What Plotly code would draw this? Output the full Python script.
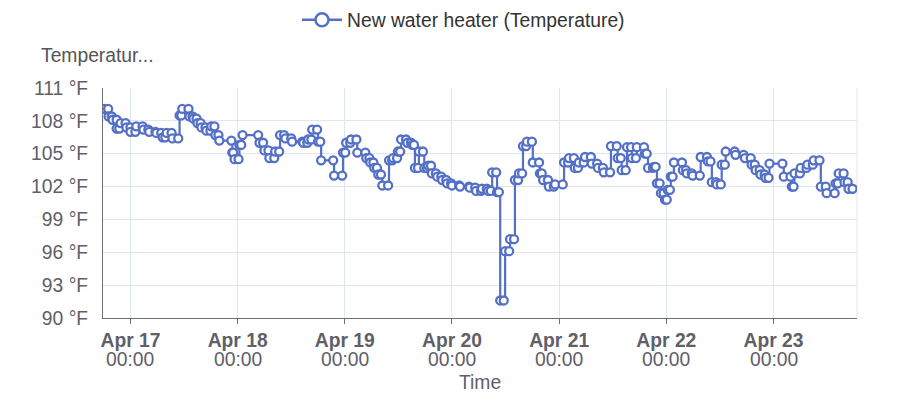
import pandas as pd
import plotly.graph_objects as go

# Each level: start hour, end hour (relative to Apr 17 00:00), temperature °F
level_start = [-5.8, -4.9, -4.0, -3.1, -2.2, -0.9, 0.0, 1.3, 2.9, 4.2, 5.8, 7.2, 8.1, 9.4, 11.0, 11.6,
               13.2, 14.1, 15.0, 15.9, 17.0, 18.1, 19.0, 19.9, 22.8, 23.3, 24.4, 25.1, 28.9, 30.0,
               31.1, 32.4, 33.5, 34.7, 36.2, 38.7, 39.8, 40.7, 42.0, 42.7, 45.6, 47.6, 48.3, 49.4,
               50.8, 52.8, 53.7, 54.6, 55.5, 56.4, 57.9, 58.8, 59.9, 60.6, 62.0, 63.1, 63.7, 64.6,
               65.8, 66.7, 67.5, 68.7, 69.8, 70.9, 72.0, 73.8, 76.0, 77.4, 78.7, 80.1, 81.0, 82.1,
               82.8, 83.9, 85.0, 86.1, 87.0, 87.9, 88.8, 90.1, 91.7, 92.4, 93.7, 95.1, 97.1, 98.2,
               99.5, 100.4, 101.8, 103.3, 104.7, 106.0, 107.6, 109.1, 110.0, 111.2, 112.3, 113.4,
               115.2, 115.9, 117.2, 117.9, 118.8, 119.7, 120.3, 121.0, 121.7, 123.7, 124.6, 125.9,
               127.7, 129.3, 130.2, 131.3, 132.4, 133.3, 135.5, 137.6, 139.1, 140.0, 141.1, 142.2,
               143.1, 146.3, 148.1, 148.7, 150.1, 151.6, 153.0, 154.6, 155.9, 157.9, 158.6, 159.9,
               160.8]
level_end = [-5.0, -4.2, -3.1, -2.5, -1.1, 0.0, 1.1, 2.7, 4.0, 5.6, 6.9, 7.8, 9.2, 10.7, 11.4, 13.0,
             13.9, 14.8, 15.7, 16.8, 17.9, 18.8, 19.7, 22.6, 23.0, 24.2, 24.8, 28.6, 29.7, 30.9,
             32.2, 33.3, 34.4, 36.0, 38.5, 39.6, 40.5, 41.8, 42.5, 45.4, 47.4, 48.1, 49.2, 50.6,
             52.6, 53.5, 54.4, 55.2, 56.1, 57.7, 58.6, 59.7, 60.4, 61.7, 62.8, 63.5, 64.4, 65.5,
             66.4, 67.3, 68.4, 69.6, 70.7, 71.8, 73.6, 75.8, 77.2, 78.5, 79.8, 80.7, 81.9, 82.5,
             83.6, 84.8, 85.9, 86.8, 87.7, 88.6, 89.9, 91.5, 92.1, 93.5, 94.8, 96.8, 98.0, 99.3,
             100.2, 101.5, 103.1, 104.5, 105.8, 107.4, 108.9, 109.8, 110.9, 112.1, 113.2, 115.0,
             115.6, 117.0, 117.6, 118.5, 119.4, 120.1, 120.8, 121.4, 123.5, 124.4, 125.7, 127.5,
             129.1, 129.9, 131.1, 132.2, 133.1, 135.3, 137.3, 138.9, 139.8, 140.9, 142.0, 142.9,
             146.0, 147.8, 148.5, 149.9, 151.4, 152.8, 154.3, 155.7, 157.7, 158.4, 159.7, 160.6,
             161.7]
temps = [109.1, 108.4, 108.1, 107.3, 107.8, 107.4, 107.0, 107.5, 107.2, 107.0, 106.9, 106.5, 106.9,
         106.4, 108.5, 109.1, 108.4, 108.2, 107.8, 107.4, 107.1, 107.5, 106.7, 106.2, 105.1, 104.5,
         105.8, 106.7, 106.0, 105.3, 104.6, 105.2, 106.7, 106.4, 106.1, 106.0, 106.3, 107.2, 106.1,
         104.4, 103.0, 105.1, 106.0, 106.3, 105.1, 104.6, 104.2, 103.7, 103.1, 102.1, 104.4, 104.6,
         105.2, 106.3, 106.0, 105.8, 103.7, 105.2, 103.7, 103.9, 103.2, 102.9, 102.6, 102.3, 102.1,
         102.0, 101.9, 101.6, 101.8, 101.6, 103.3, 101.5, 91.6, 96.1, 97.2, 102.6, 103.2, 105.7,
         106.1, 104.2, 103.2, 102.6, 102.0, 102.2, 104.2, 104.6, 103.7, 104.2, 104.7, 104.1, 103.7,
         103.3, 105.7, 104.6, 103.5, 105.6, 104.6, 105.6, 105.0, 103.7, 103.8, 102.3, 101.4, 100.8,
         101.7, 102.9, 104.2, 103.5, 103.2, 103.0, 104.7, 104.3, 102.4, 102.2, 104.0, 105.2, 104.9,
         104.6, 104.0, 103.5, 103.1, 102.8, 104.1, 102.9, 102.0, 103.2, 103.7, 104.0, 104.4, 102.0,
         101.4, 102.3, 103.2, 102.4, 101.8]

base = pd.Timestamp("2023-04-17 00:00")
tick_vals = ["2023-04-17", "2023-04-18", "2023-04-19", "2023-04-20", "2023-04-21", "2023-04-22", "2023-04-23"]
tick_dates = ["Apr 17", "Apr 18", "Apr 19", "Apr 20", "Apr 21", "Apr 22", "Apr 23"]
tick_times = ["00:00"] * 7
y_ticks = [90, 93, 96, 99, 102, 105, 108, 111]
y_tick_text = [f"{v} °F" for v in y_ticks]

xs, ys = [], []
for s, e, v in zip(level_start, level_end, temps):
    xs += [base + pd.Timedelta(hours=s), base + pd.Timedelta(hours=e)]
    ys += [v, v]

COLOR = "#5470c6"
GRID = "#e0e6f1"
AXIS = "#6e7079"
TXT = "#5f6068"
FONT = "Liberation Sans"
FS = 19.3

fig = go.Figure()
fig.add_trace(go.Scatter(
    x=xs, y=ys, mode="lines+markers", line_shape="hv",
    name="New water heater (Temperature)", showlegend=False,
    line=dict(color=COLOR, width=2.2),
    marker=dict(symbol="circle", size=8, color="white", line=dict(color=COLOR, width=2.3)),
))
# legend entry (larger symbol, as in the reference legend)
fig.add_trace(go.Scatter(
    x=[None], y=[None], mode="lines+markers",
    name="New water heater (Temperature)", showlegend=True,
    line=dict(color=COLOR, width=2.5),
    marker=dict(symbol="circle", size=13, color="white", line=dict(color=COLOR, width=2.5)),
))

annotations = [
    dict(text="Temperatur...", xref="paper", yref="paper", x=-0.0854, y=1.143,
         xanchor="left", yanchor="middle", showarrow=False,
         font=dict(size=FS, color="#555555")),
    dict(text="Time", xref="paper", yref="paper", x=0.5, y=-0.28,
         xanchor="center", yanchor="middle", showarrow=False,
         font=dict(size=FS, color=TXT)),
]
for tv, tt in zip(tick_vals, tick_times):
    annotations.append(dict(text=tt, xref="x", yref="paper", x=tv, y=-0.182,
                            xanchor="center", yanchor="middle", showarrow=False,
                            font=dict(size=FS, color=TXT)))

fig.update_layout(
    width=911, height=391,
    margin=dict(l=94.5, r=61.5, t=80, b=81, autoexpand=False),
    paper_bgcolor="white", plot_bgcolor="white",
    font=dict(family=FONT, size=FS, color=TXT),
    showlegend=True,
    legend=dict(orientation="h", xref="container", yref="container", x=0.5, y=0.969,
                xanchor="center", yanchor="middle", font=dict(size=FS, color="#333333"),
                itemwidth=40),
    xaxis=dict(
        range=[base + pd.Timedelta(hours=-6.15), base + pd.Timedelta(hours=162.7)],
        tickvals=tick_vals, ticktext=[f"<b>{d}</b>" for d in tick_dates],
        showgrid=True, gridcolor=GRID, gridwidth=1,
        showline=True, linecolor=AXIS, linewidth=1,
        ticks="outside", ticklen=5, tickcolor=AXIS,
        tickfont=dict(size=FS, color=TXT),
        zeroline=False, automargin=False,
    ),
    yaxis=dict(
        range=[90, 111], tickvals=y_ticks, ticktext=y_tick_text,
        showgrid=True, gridcolor=GRID, gridwidth=1,
        showline=True, linecolor=AXIS, linewidth=1,
        ticks="", ticklabelstandoff=10,
        tickfont=dict(size=FS, color=TXT),
        zeroline=False, automargin=False,
    ),
    annotations=annotations,
    shapes=[dict(type="line", xref="paper", yref="paper", x0=1, x1=1, y0=0, y1=1,
                 line=dict(color=GRID, width=1), layer="below")],
)

fig.write_html("out.html")
